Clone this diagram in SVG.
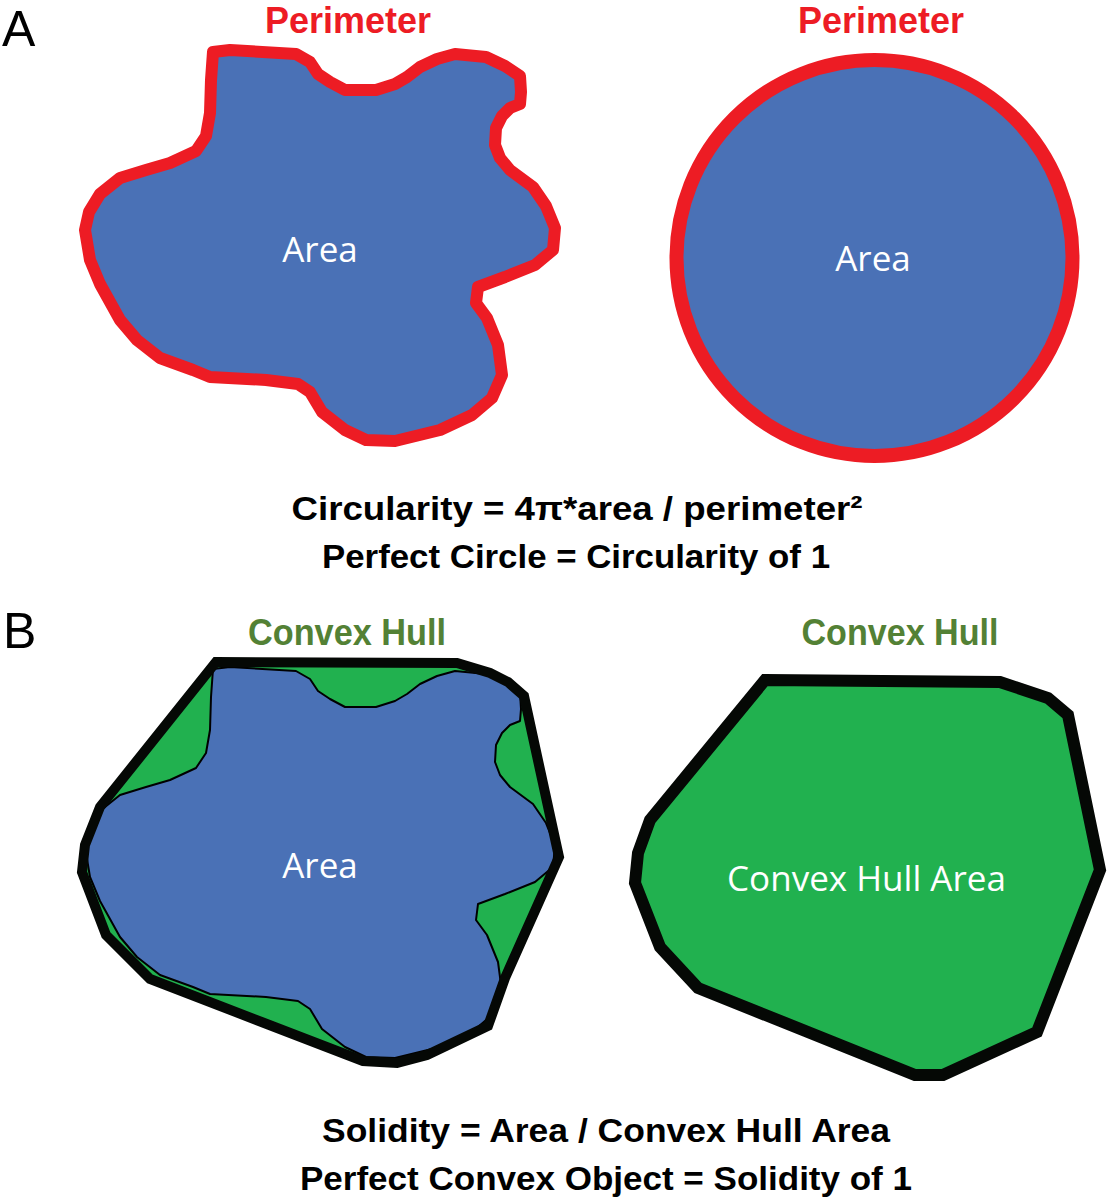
<svg xmlns="http://www.w3.org/2000/svg" width="1110" height="1200" viewBox="0 0 1110 1200">
<style>
.lbl{font-family:"Liberation Sans",Arial,sans-serif;}
.inl{font-family:"Open Sans","Liberation Sans",sans-serif;}
.big{font-size:50px;fill:#000;}
.red{font-size:36px;font-weight:bold;fill:#ED1C24;text-anchor:middle;}
.grn{font-size:36px;font-weight:bold;fill:#538135;text-anchor:middle;}
.eq{font-size:34px;font-weight:bold;fill:#000;text-anchor:middle;}
.in{font-size:35px;fill:#fff;text-anchor:middle;}
.blobA{fill:#4A71B6;stroke:#ED1C24;stroke-width:12;stroke-linejoin:round;}
.blobB{fill:#4A71B6;stroke:#000;stroke-width:2;stroke-linejoin:round;}
.hullFill{fill:#21B14F;stroke:none;}
.hullLine{fill:none;stroke:#050805;stroke-width:10;stroke-linejoin:miter;}
</style>
<defs>
<path id="blob" d="M213,52 L230,50 L296,54 L310,62 L318,74 L330,82 L345,90 L376,90 L395,84 L407,77 L420,67 L437,59 L455,54 L486,57 L505,66 L520,76 L521,92 L520,104 L510,108 L502,116 L496,128 L495,145 L500,158 L510,170 L533,187 L546,206 L555,228 L553,250 L535,265 L505,277 L478,287 L476,303 L487,318 L498,345 L502,375 L492,398 L472,415 L440,430 L395,441 L366,440 L345,430 L322,412 L310,392 L298,384 L266,380 L210,377 L193,370 L160,358 L137,340 L120,320 L100,284 L90,260 L85,230 L89,212 L100,194 L120,178 L146,170 L170,163 L196,151 L206,136 L210,113 L211,80 Z"/>
</defs>

<g id="label-A"><text class="lbl big" x="2" y="46">A</text></g>
<g id="label-B"><text class="lbl big" x="3" y="648">B</text></g>

<g id="node-irregular-perimeter">
<text class="lbl red" x="348" y="33" textLength="166" lengthAdjust="spacingAndGlyphs">Perimeter</text>
<use href="#blob" class="blobA"/>
<text class="inl in" x="320" y="262">Area</text>
</g>

<g id="node-circle">
<text class="lbl red" x="881" y="33" textLength="166" lengthAdjust="spacingAndGlyphs">Perimeter</text>
<circle cx="874.5" cy="258" r="198" fill="#4A71B6" stroke="#ED1C24" stroke-width="14"/>
<text class="inl in" x="873" y="271">Area</text>
</g>

<g id="formula-circularity">
<text class="lbl eq" x="577" y="520" textLength="571" lengthAdjust="spacingAndGlyphs">Circularity = 4π*area / perimeter²</text>
<text class="lbl eq" x="576" y="568" textLength="508" lengthAdjust="spacingAndGlyphs">Perfect Circle = Circularity of 1</text>
</g>

<g id="node-irregular-hull">
<text class="lbl grn" x="347" y="645" textLength="198" lengthAdjust="spacingAndGlyphs">Convex Hull</text>
<polygon class="hullFill" points="216,662 457,663 490,673 508,682 524,696 559,857 505,978 488,1026 427,1055 397,1063 363,1061 150,979 106,935 82,872 85,845 100,807"/>
<use href="#blob" class="blobB" transform="translate(0,617)"/>
<polygon class="hullLine" points="216,662 457,663 490,673 508,682 524,696 559,857 505,978 488,1026 427,1055 397,1063 363,1061 150,979 106,935 82,872 85,845 100,807"/>
<text class="inl in" x="320" y="878">Area</text>
</g>

<g id="node-convex-hull">
<text class="lbl grn" x="900" y="645" textLength="197" lengthAdjust="spacingAndGlyphs">Convex Hull</text>
<polygon points="765,680 1000,682 1048,698 1068,715 1100,870 1037,1032 943,1075 915,1075 698,988 660,947 635,883 638,853 650,820" fill="#21B14F" stroke="#050805" stroke-width="12" stroke-linejoin="miter"/>
<text class="inl in" x="866.5" y="891" textLength="279" lengthAdjust="spacingAndGlyphs">Convex Hull Area</text>
</g>

<g id="formula-solidity">
<text class="lbl eq" x="606" y="1142" textLength="568" lengthAdjust="spacingAndGlyphs">Solidity = Area / Convex Hull Area</text>
<text class="lbl eq" x="606" y="1190" textLength="612" lengthAdjust="spacingAndGlyphs">Perfect Convex Object = Solidity of 1</text>
</g>

<g id="connectors"></g>
</svg>
